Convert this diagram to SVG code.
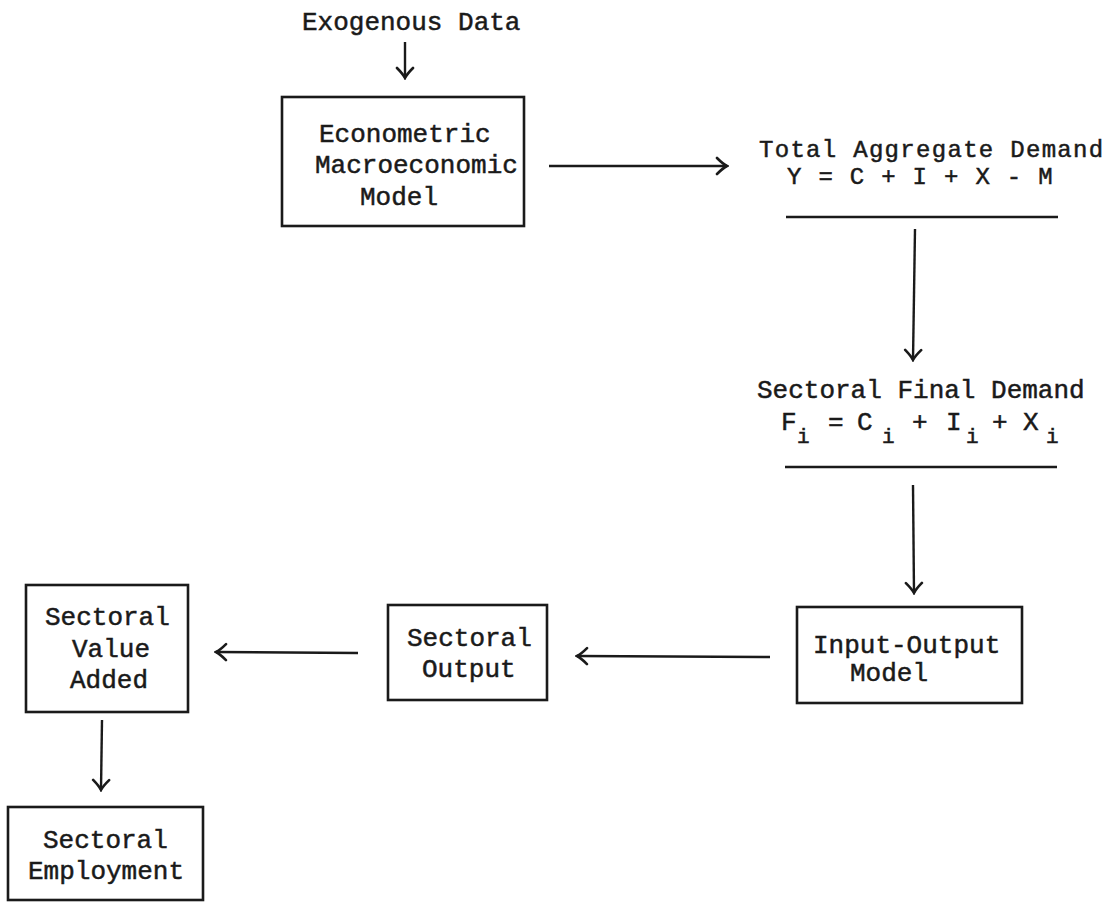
<svg xmlns="http://www.w3.org/2000/svg" width="1109" height="902" viewBox="0 0 1109 902">
  <style>
    .t { font-family: "Liberation Mono", "Courier New", monospace; font-size: 26px; fill: #1a1a1a; stroke: #1a1a1a; stroke-width: 0.5; }
    .tight { font-size: 24px; letter-spacing: 1.3px; }
    .sub { font-size: 21px; }
    .box { fill: none; stroke: #1a1a1a; stroke-width: 2.6; }
    .rule { stroke: #1a1a1a; stroke-width: 2.4; }
    .edge { fill: none; stroke: #1a1a1a; stroke-width: 2.4; marker-end: url(#head); }
  </style>
  <defs>
    <marker id="head" markerUnits="userSpaceOnUse" viewBox="-13 -10 15 20" markerWidth="15" markerHeight="20" refX="0" refY="0" orient="auto">
      <path d="M-10,-8 Q-4,-2 0,0 Q-4,2 -10,8" fill="none" stroke="#1a1a1a" stroke-width="2.6" stroke-linecap="round"/>
    </marker>
  </defs>
  <rect width="1109" height="902" fill="#ffffff"/>

  <!-- connectors -->
  <g id="connectors">
    <line class="edge" x1="405" y1="42" x2="405" y2="78"/>
    <line class="edge" x1="549" y1="166" x2="727" y2="166"/>
    <line class="edge" x1="915" y1="229" x2="913" y2="360"/>
    <line class="edge" x1="913" y1="485" x2="914" y2="593"/>
    <line class="edge" x1="770" y1="657" x2="577" y2="656"/>
    <line class="edge" x1="358" y1="653" x2="216" y2="652"/>
    <line class="edge" x1="102" y1="720" x2="101" y2="790"/>
  </g>

  <!-- exogenous input -->
  <g id="exogenous">
    <text class="t" x="302" y="30">Exogenous Data</text>
  </g>

  <!-- econometric model -->
  <g id="econometric">
    <rect class="box" x="282" y="97" width="242" height="129"/>
    <text class="t" x="319" y="142">Econometric</text>
    <text class="t" x="315" y="173">Macroeconomic</text>
    <text class="t" x="360" y="205">Model</text>
  </g>

  <!-- aggregate demand -->
  <g id="aggregate-demand">
    <text class="t tight" x="759" y="157">Total Aggregate Demand</text>
    <text class="t tight" x="787" y="184">Y = C + I + X - M</text>
    <line class="rule" x1="786" y1="217" x2="1058" y2="217"/>
  </g>

  <!-- sectoral final demand: F_i = C_i + I_i + X_i -->
  <g id="final-demand">
    <text class="t" x="757" y="398">Sectoral Final Demand</text>
    <text class="t" y="430"><tspan x="781">F</tspan><tspan class="sub" x="797" y="443">i</tspan><tspan x="828" y="430">=</tspan><tspan x="857">C</tspan><tspan class="sub" x="882" y="443">i</tspan><tspan x="912" y="430">+</tspan><tspan x="946">I</tspan><tspan class="sub" x="966" y="443">i</tspan><tspan x="992" y="430">+</tspan><tspan x="1023">X</tspan><tspan class="sub" x="1046" y="443">i</tspan></text>
    <line class="rule" x1="785" y1="467" x2="1057" y2="467"/>
  </g>

  <!-- input-output model -->
  <g id="input-output">
    <rect class="box" x="797" y="607" width="225" height="96"/>
    <text class="t" x="813" y="653">Input-Output</text>
    <text class="t" x="850" y="681">Model</text>
  </g>

  <!-- sectoral output -->
  <g id="sectoral-output">
    <rect class="box" x="388" y="605" width="159" height="95"/>
    <text class="t" x="407" y="646">Sectoral</text>
    <text class="t" x="422" y="677">Output</text>
  </g>

  <!-- sectoral value added -->
  <g id="value-added">
    <rect class="box" x="26" y="585" width="162" height="127"/>
    <text class="t" x="45" y="625">Sectoral</text>
    <text class="t" x="72" y="657">Value</text>
    <text class="t" x="70" y="688">Added</text>
  </g>

  <!-- sectoral employment -->
  <g id="employment">
    <rect class="box" x="8" y="807" width="195" height="93"/>
    <text class="t" x="43" y="848">Sectoral</text>
    <text class="t" x="28" y="879">Employment</text>
  </g>
</svg>
